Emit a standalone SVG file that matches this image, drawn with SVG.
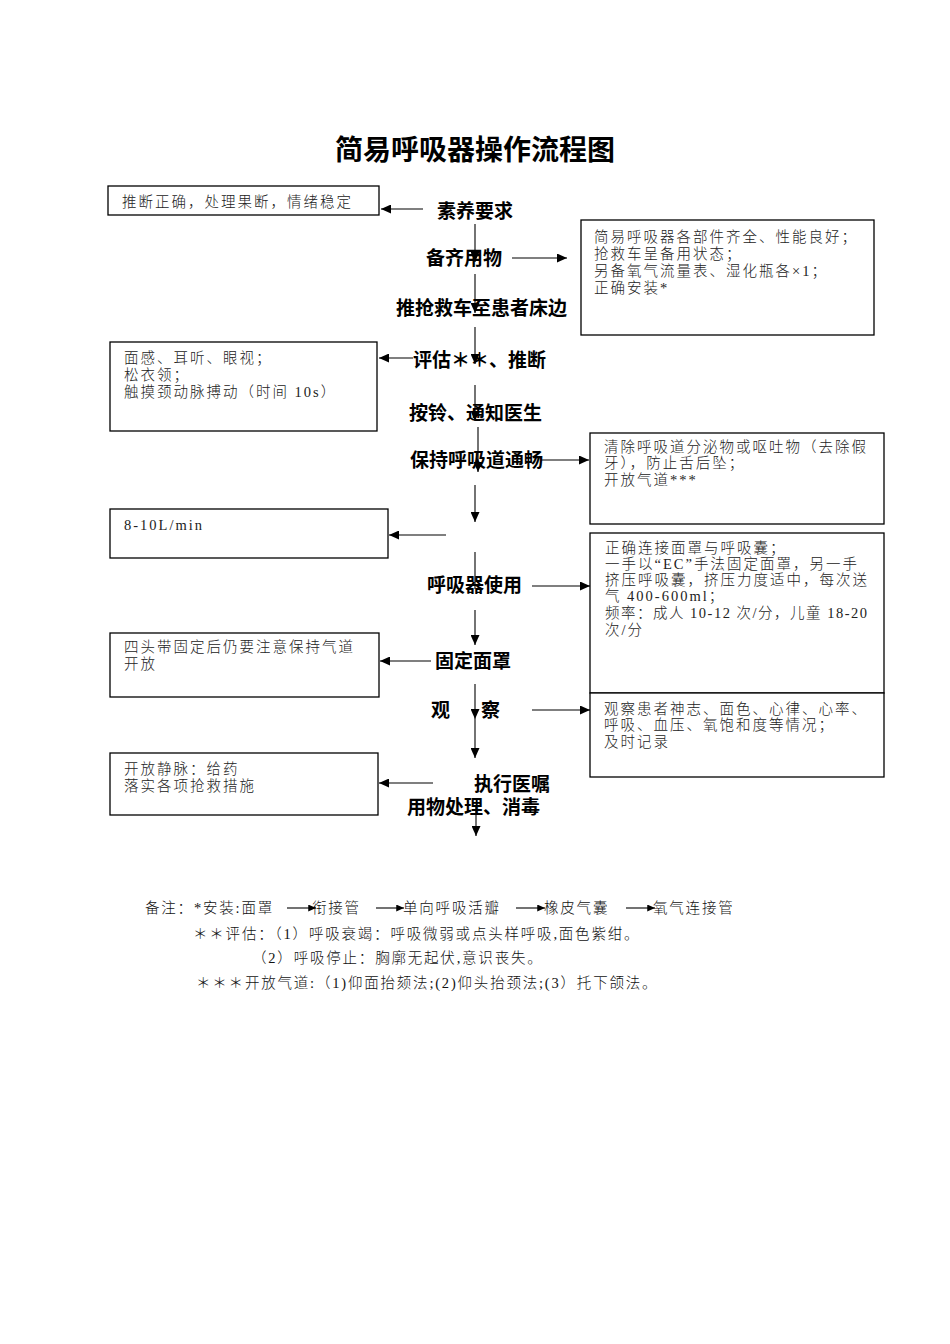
<svg xmlns="http://www.w3.org/2000/svg" width="950" height="1344" viewBox="0 0 950 1344">
<defs>
<style>
.title{font-family:"Noto Sans CJK SC","Liberation Sans",sans-serif;font-size:28px;font-weight:700;fill:#000}
.lbl{font-family:"Liberation Sans","Noto Sans CJK SC",sans-serif;font-size:19px;font-weight:700;fill:#000}
.bt{font-family:"Liberation Serif","Noto Sans CJK SC",serif;font-size:14.5px;font-weight:300;letter-spacing:2px;fill:#222}
.nt{font-family:"Liberation Serif","Noto Sans CJK SC",serif;font-size:14.5px;font-weight:300;letter-spacing:1.8px;fill:#111}
.box{fill:#fff;stroke:#000;stroke-width:1.3}
.ln{fill:none;stroke:#000;stroke-width:1.1}
</style>
<marker id="ah" viewBox="0 0 10 9" refX="10" refY="4.5" markerWidth="10" markerHeight="9" markerUnits="userSpaceOnUse" orient="auto">
<path d="M0,0 L10,4.5 L0,9 Z" fill="#000"/>
</marker>
<marker id="ahs" viewBox="0 0 10 9" refX="10" refY="4.5" markerWidth="8" markerHeight="7" markerUnits="userSpaceOnUse" orient="auto">
<path d="M0,0 L10,4.5 L0,9 Z" fill="#000"/>
</marker>
</defs>
<rect width="950" height="1344" fill="#fff"/>

<text class="title" x="475" y="160" text-anchor="middle">简易呼吸器操作流程图</text>

<g id="n-suyang"><text class="lbl" x="437" y="218">素养要求</text></g>
<g id="n-beiqi"><text class="lbl" x="426" y="265">备齐用物</text></g>
<g id="n-tuiche"><text class="lbl" x="396" y="315">推抢救车至患者床边</text></g>
<g id="n-pinggu"><text class="lbl" x="413" y="367">评估＊＊、推断</text></g>
<g id="n-anling"><text class="lbl" x="409" y="420">按铃、通知医生</text></g>
<g id="n-baochi"><text class="lbl" x="410" y="467">保持呼吸道通畅</text></g>
<g id="n-shiyong"><text class="lbl" x="427" y="592">呼吸器使用</text></g>
<g id="n-guding"><text class="lbl" x="435" y="668">固定面罩</text></g>
<g id="n-guancha"><text class="lbl" x="431" y="717">观</text><text class="lbl" x="481" y="717">察</text></g>
<g id="n-zhixing"><text class="lbl" x="474" y="791">执行医嘱</text></g>
<g id="n-yongwu"><text class="lbl" x="407" y="814">用物处理、消毒</text></g>

<g id="box-a">
<rect class="box" x="108" y="186" width="271" height="29"/>
<text class="bt" x="122" y="207">推断正确，处理果断，情绪稳定</text>
</g>
<g id="box-b">
<rect class="box" x="581" y="220" width="293" height="115"/>
<text class="bt" x="594" y="242">简易呼吸器各部件齐全、性能良好；</text>
<text class="bt" x="594" y="259">抢救车呈备用状态；</text>
<text class="bt" x="594" y="276">另备氧气流量表、湿化瓶各×1；</text>
<text class="bt" x="594" y="293">正确安装*</text>
</g>
<g id="box-c">
<rect class="box" x="110" y="342" width="267" height="89"/>
<text class="bt" x="124" y="363">面感、耳听、眼视；</text>
<text class="bt" x="124" y="380">松衣领；</text>
<text class="bt" x="124" y="397">触摸颈动脉搏动（时间 10s）</text>
</g>
<g id="box-d">
<rect class="box" x="590" y="433" width="294" height="91"/>
<text class="bt" x="604" y="452">清除呼吸道分泌物或呕吐物（去除假</text>
<text class="bt" x="604" y="468">牙），防止舌后坠；</text>
<text class="bt" x="604" y="485">开放气道***</text>
</g>
<g id="box-e">
<rect class="box" x="110" y="509" width="278" height="49"/>
<text class="bt" x="124" y="530">8-10L/min</text>
</g>
<g id="box-f">
<rect class="box" x="590" y="533" width="294" height="160"/>
<text class="bt" x="605" y="553">正确连接面罩与呼吸囊；</text>
<text class="bt" x="605" y="569">一手以“EC”手法固定面罩，另一手</text>
<text class="bt" x="605" y="585">挤压呼吸囊，挤压力度适中，每次送</text>
<text class="bt" x="605" y="601">气 400-600ml；</text>
<text class="bt" x="605" y="618" style="letter-spacing:1.5px">频率：成人 10-12 次/分，儿童 18-20</text>
<text class="bt" x="605" y="635">次/分</text>
</g>
<g id="box-g">
<rect class="box" x="110" y="633" width="269" height="64"/>
<text class="bt" x="124" y="652">四头带固定后仍要注意保持气道</text>
<text class="bt" x="124" y="669">开放</text>
</g>
<g id="box-h">
<rect class="box" x="590" y="693" width="294" height="84"/>
<text class="bt" x="604" y="714">观察患者神志、面色、心律、心率、</text>
<text class="bt" x="604" y="730">呼吸、血压、氧饱和度等情况；</text>
<text class="bt" x="604" y="747">及时记录</text>
</g>
<g id="box-i">
<rect class="box" x="110" y="753" width="268" height="62"/>
<text class="bt" x="124" y="774">开放静脉：给药</text>
<text class="bt" x="124" y="791">落实各项抢救措施</text>
</g>

<g id="notes">
<text class="nt" x="145" y="913">备注：*安装:面罩</text>
<text class="nt" x="312" y="913">衔接管</text>
<text class="nt" x="403" y="913">单向呼吸活瓣</text>
<text class="nt" x="544" y="913">橡皮气囊</text>
<text class="nt" x="653" y="913">氧气连接管</text>
<text class="nt" x="193" y="939">＊＊评估：（1）呼吸衰竭：呼吸微弱或点头样呼吸,面色紫绀。</text>
<text class="nt" x="252" y="963">（2）呼吸停止：胸廓无起伏,意识丧失。</text>
<text class="nt" x="196" y="988">＊＊＊开放气道:（1)仰面抬颏法;(2)仰头抬颈法;(3）托下颌法。</text>
</g>

<g id="connectors">
<path class="ln" d="M475,224 V262" marker-end="url(#ah)"/>
<path class="ln" d="M475,274 V313" marker-end="url(#ah)"/>
<path class="ln" d="M475,327 V364" marker-end="url(#ah)"/>
<path class="ln" d="M475,385 V421" marker-end="url(#ah)"/>
<path class="ln" d="M478,427 V472" marker-end="url(#ah)"/>
<path class="ln" d="M475,485 V522" marker-end="url(#ah)"/>
<path class="ln" d="M475,552 V589"/>
<path class="ln" d="M475,610 V645" marker-end="url(#ah)"/>
<path class="ln" d="M475,684 V719" marker-end="url(#ah)"/>
<path class="ln" d="M475,719 V758" marker-end="url(#ah)"/>
<path class="ln" d="M476,806 V836" marker-end="url(#ah)"/>

<path class="ln" d="M423,209 H381" marker-end="url(#ah)"/>
<path class="ln" d="M512,258 H567" marker-end="url(#ah)"/>
<path class="ln" d="M413,358 H379" marker-end="url(#ah)"/>
<path class="ln" d="M541,460 H589" marker-end="url(#ah)"/>
<path class="ln" d="M446,535 H389" marker-end="url(#ah)"/>
<path class="ln" d="M532,586 H590" marker-end="url(#ah)"/>
<path class="ln" d="M431,661 H380" marker-end="url(#ah)"/>
<path class="ln" d="M532,710 H590" marker-end="url(#ah)"/>
<path class="ln" d="M433,783 H379" marker-end="url(#ah)"/>

<path class="ln" d="M287,908 H316" marker-end="url(#ahs)"/>
<path class="ln" d="M376,908 H404" marker-end="url(#ahs)"/>
<path class="ln" d="M516,908 H545" marker-end="url(#ahs)"/>
<path class="ln" d="M626,908 H655" marker-end="url(#ahs)"/>
</g>
</svg>
